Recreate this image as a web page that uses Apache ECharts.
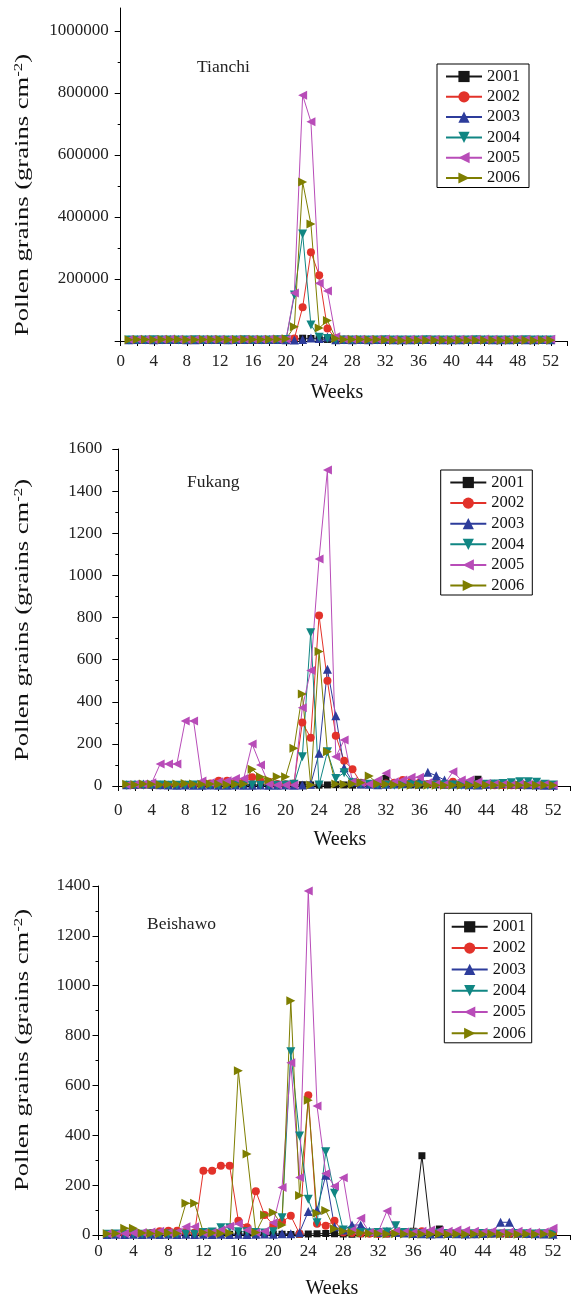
<!DOCTYPE html>
<html>
<head>
<meta charset="utf-8">
<script src="https://cdn.jsdelivr.net/npm/echarts@6/dist/echarts.min.js"></script>
<style>
html, body { margin: 0; padding: 0; background: #fff; }
#main { width: 574px; height: 1301px; }
</style>
</head>
<body>
<div id="main"></div>
<script>
var weeks = [1, 2, 3, 4, 5, 6, 7, 8, 9, 10, 11, 12, 13, 14, 15, 16, 17, 18, 19, 20, 21, 22, 23, 24, 25, 26,
	27, 28, 29, 30, 31, 32, 33, 34, 35, 36, 37, 38, 39, 40, 41, 42, 43, 44, 45, 46, 47, 48, 49, 50, 51, 52];
var years = ['2001', '2002', '2003', '2004', '2005', '2006'];

// Tianchi (grains cm-2)
var tianchi2001 = [2000, 1500, 1800, 2200, 1600, 2500, 1900, 2100, 2400, 1700, 2000, 2300, 1800, 2600, 2200, 1900, 2400, 2800, 3500, 4200, 6000, 9000, 8000, 7000, 5000, 3500,
	3000, 2600, 2200, 2000, 1800, 2100, 1900, 1700, 2000, 2200, 1800, 1600, 1900, 2100, 1800, 1700, 2000, 1900, 1600, 1800, 2100, 1900, 1700, 2000, 1800, 1600];
var tianchi2002 = [3000, 3500, 4000, 3200, 3800, 4200, 3600, 3000, 3400, 4000, 3800, 3500, 3200, 3600, 4000, 3800, 3500, 4200, 4500, 5000, 8000, 109000, 286000, 212000, 40000, 8000,
	4500, 4000, 3600, 3200, 3500, 3800, 3400, 3000, 3200, 3600, 3800, 3500, 3200, 3000, 3400, 3600, 3800, 3500, 3200, 3000, 3400, 3600, 3200, 3000, 3500, 3300];
var tianchi2003 = [4000, 4500, 5000, 4200, 4800, 5200, 4600, 4000, 4400, 5000, 4800, 4500, 4200, 4600, 5000, 4800, 4500, 5200, 4500, 4000, 3000, 5000, 10000, 8000, 13000, 4000,
	4500, 4000, 4600, 4200, 4500, 4800, 4400, 4000, 4200, 4600, 4800, 4500, 4200, 4000, 4400, 4600, 4800, 4500, 4200, 4000, 4400, 4600, 4200, 4000, 4500, 4300];
var tianchi2004 = [3000, 3500, 3200, 3800, 3400, 3000, 3600, 3200, 3800, 3500, 3000, 3400, 3600, 3200, 3800, 3500, 3000, 3600, 4000, 4500, 148000, 345000, 52000, 12000, 8000, 4000,
	3500, 3200, 3600, 3000, 3400, 3800, 3200, 3600, 3000, 3400, 3800, 3500, 3000, 3400, 3600, 3200, 3800, 3500, 3000, 3400, 3600, 3200, 3800, 3500, 3000, 3400];
var tianchi2005 = [5000, 5500, 6000, 5200, 5800, 6200, 5600, 5000, 5400, 6000, 5800, 5500, 5200, 5600, 6000, 5800, 5500, 6200, 5500, 6000, 155000, 793000, 707000, 186000, 161000, 14000,
	6000, 5500, 6000, 5200, 5800, 6200, 5600, 5000, 5400, 6000, 5800, 5500, 5200, 5600, 6000, 5800, 5500, 6200, 5500, 5000, 5400, 6000, 5800, 5500, 5200, 5600];
var tianchi2006 = [4000, 4500, 5000, 4200, 4800, 5200, 4600, 4000, 4400, 5000, 4800, 4500, 4200, 4600, 5000, 4800, 4500, 5200, 6000, 7000, 46000, 513000, 377000, 42000, 66000, 8000,
	5000, 4500, 4800, 4200, 4500, 3000, 2500, 2000, 2200, 2600, 2800, 2500, 2200, 2000, 2400, 2600, 2800, 2500, 2200, 2000, 2400, 2600, 2200, 2000, 2500, 2300];

// Fukang
var fukang2001 = [5, 4, 6, 5, 4, 5, 6, 5, 4, 5, 6, 5, 4, 5, 6, 5, 4, 5, 6, 5, 4, 6, 5, 4, 5, 6,
	5, 4, 6, 8, 10, 36, 8, 6, 5, 4, 6, 5, 4, 6, 8, 10, 32, 10, 6, 5, 4, 6, 5, 4, 6, 5];
var fukang2002 = [3, 4, 5, 4, 3, 5, 4, 6, 5, 8, 12, 25, 25, 15, 20, 41, 22, 20, 10, 8, 12, 301, 229, 809, 500, 239,
	120, 79, 15, 10, 8, 12, 15, 28, 20, 15, 10, 12, 8, 20, 10, 8, 6, 5, 4, 5, 4, 3, 5, 4, 3, 4];
var fukang2003 = [6, 8, 10, 8, 6, 5, 4, 5, 4, 3, 5, 4, 3, 5, 4, 3, 5, 4, 3, 5, 4, 5, 8, 155, 554, 334,
	87, 20, 10, 8, 6, 8, 10, 12, 15, 20, 65, 49, 28, 10, 8, 6, 5, 8, 10, 12, 10, 8, 6, 5, 4, 3];
var fukang2004 = [3, 4, 3, 4, 5, 4, 3, 4, 5, 4, 3, 4, 5, 4, 3, 5, 4, 3, 4, 5, 8, 139, 728, 5, 163, 36,
	63, 15, 10, 8, 6, 5, 4, 5, 6, 5, 4, 5, 6, 5, 4, 5, 6, 8, 10, 12, 15, 20, 20, 18, 8, 5];
var fukang2005 = [5, 8, 10, 15, 104, 104, 104, 309, 309, 24, 15, 20, 25, 36, 36, 199, 100, 10, 5, 5, 5, 372, 548, 1078, 1500, 139,
	218, 20, 15, 10, 28, 60, 20, 28, 41, 41, 15, 10, 8, 68, 28, 28, 20, 12, 10, 8, 6, 10, 8, 6, 8, 5];
var fukang2006 = [8, 6, 10, 8, 6, 8, 10, 12, 10, 8, 10, 8, 6, 8, 10, 79, 44, 28, 44, 44, 179, 437, 5, 639, 163, 10,
	8, 10, 15, 47, 10, 8, 6, 5, 4, 5, 4, 3, 4, 3, 4, 3, 4, 5, 4, 3, 4, 3, 4, 3, 4, 3];

// Beishawo
var beishawo2001 = [3, 2, 3, 4, 3, 2, 3, 4, 3, 2, 3, 4, 3, 2, 3, 4, 3, 2, 3, 4, 3, 2, 3, 4, 5, 6,
	5, 4, 3, 5, 6, 5, 4, 6, 8, 15, 318, 10, 24, 8, 6, 5, 4, 3, 5, 4, 3, 4, 5, 4, 3, 4];
var beishawo2002 = [3, 4, 5, 3, 4, 8, 15, 17, 17, 12, 10, 258, 258, 278, 278, 57, 31, 176, 80, 40, 53, 77, 5, 561, 45, 37,
	57, 10, 8, 6, 5, 4, 6, 8, 10, 12, 15, 10, 8, 6, 5, 4, 3, 4, 5, 6, 5, 4, 3, 4, 5, 4];
var beishawo2003 = [2, 3, 2, 3, 2, 3, 2, 3, 2, 3, 2, 3, 2, 3, 2, 3, 2, 3, 4, 3, 5, 5, 10, 94, 100, 240,
	33, 20, 40, 40, 15, 10, 15, 10, 8, 6, 5, 4, 5, 6, 5, 4, 5, 6, 8, 51, 51, 8, 6, 5, 4, 3];
var beishawo2004 = [3, 4, 3, 4, 3, 4, 3, 4, 3, 4, 3, 10, 12, 29, 29, 13, 13, 10, 8, 13, 69, 735, 397, 143, 49, 334,
	167, 20, 15, 10, 8, 10, 12, 37, 10, 8, 6, 5, 8, 6, 5, 4, 5, 6, 5, 4, 5, 6, 5, 4, 5, 4];
var beishawo2005 = [5, 4, 6, 8, 10, 12, 15, 10, 12, 33, 33, 8, 10, 20, 35, 45, 20, 10, 15, 49, 191, 691, 231, 1380, 517, 247,
	196, 230, 20, 67, 10, 12, 96, 15, 12, 10, 15, 20, 18, 15, 20, 18, 15, 12, 15, 10, 12, 15, 12, 10, 12, 27];
var beishawo2006 = [5, 6, 27, 27, 8, 6, 5, 8, 6, 127, 127, 10, 8, 6, 8, 659, 325, 10, 80, 90, 40, 940, 158, 541, 87, 98,
	25, 15, 10, 8, 6, 5, 4, 5, 4, 3, 4, 3, 4, 3, 4, 3, 4, 3, 4, 3, 4, 3, 4, 3, 4, 3];

// tick labels
var weekLabels = [0, 4, 8, 12, 16, 20, 24, 28, 32, 36, 40, 44, 48, 52];
var tianchiLabels = [200000, 400000, 600000, 800000, 1000000];
var tianchiMajor = [0, 200000, 400000, 600000, 800000, 1000000];
var tianchiMinor = [100000, 300000, 500000, 700000, 900000];
var fukangLabels = [0, 200, 400, 600, 800, 1000, 1200, 1400, 1600];
var fukangMinor = [100, 300, 500, 700, 900, 1100, 1300, 1500];
var beishawoLabels = [0, 200, 400, 600, 800, 1000, 1200, 1400];
var beishawoMinor = [100, 300, 500, 700, 900, 1100, 1300];

var serif = 'Liberation Serif';
var yearColor = ['#161616', '#e2322a', '#2d3c9b', '#108683', '#b84cb8', '#7e7e00'];
var yearSymbol = ['rect', 'circle', 'triangle', 'triangle', 'triangle', 'triangle'];
var yearRotate = [0, 0, 0, 180, 90, -90];
var yearSize = [7, 8, 9, 9, 9, 9];

var panels = [
	{ data: [tianchi2001, tianchi2002, tianchi2003, tianchi2004, tianchi2005, tianchi2006],
		grid: { left: 120.7, top: 8, width: 446.6, height: 333 }, max: 1074000,
		labels: tianchiLabels, major: tianchiMajor, minor: tianchiMinor, yMargin: 12, xMargin: 12 },
	{ data: [fukang2001, fukang2002, fukang2003, fukang2004, fukang2005, fukang2006],
		grid: { left: 118.3, top: 449, width: 451.7, height: 337 }, max: 1600,
		labels: fukangLabels, major: fukangLabels, minor: fukangMinor, yMargin: 16, xMargin: 16 },
	{ data: [beishawo2001, beishawo2002, beishawo2003, beishawo2004, beishawo2005, beishawo2006],
		grid: { left: 98.5, top: 886, width: 472, height: 349 }, max: 1400,
		labels: beishawoLabels, major: beishawoLabels, minor: beishawoMinor, yMargin: 8, xMargin: 8 }
];

function plainNumber(v) {
	return String(v);
}

var grids = [], xAxes = [], yAxes = [], series = [];
for (var p = 0; p < panels.length; p++) {
	var pan = panels[p];
	grids.push({ left: pan.grid.left, top: pan.grid.top, width: pan.grid.width, height: pan.grid.height, outerBoundsMode: 'none' });
	xAxes.push({
		gridIndex: p, type: 'value', min: 0, max: 54, interval: 2,
		axisLine: { show: true, onZero: false, lineStyle: { color: '#000', width: 1 } },
		axisTick: { show: true, length: 5, lineStyle: { color: '#000' } },
		axisLabel: { customValues: weekLabels, margin: pan.xMargin, fontFamily: serif, fontSize: 17, color: '#222', formatter: plainNumber },
		splitLine: { show: false }
	});
	// major ticks + labels
	yAxes.push({
		gridIndex: p, type: 'value', min: 0, max: pan.max, position: 'left',
		axisLine: { show: true, lineStyle: { color: '#000', width: 1 } },
		axisTick: { show: true, length: 6, customValues: pan.major, lineStyle: { color: '#000' } },
		axisLabel: { customValues: pan.labels, margin: pan.yMargin, fontFamily: serif, fontSize: 17, color: '#222', formatter: plainNumber },
		splitLine: { show: false }
	});
	// minor ticks
	yAxes.push({
		gridIndex: p, type: 'value', min: 0, max: pan.max, position: 'left',
		axisLine: { show: false },
		axisTick: { show: true, length: 3, customValues: pan.minor, lineStyle: { color: '#000' } },
		axisLabel: { show: false },
		splitLine: { show: false }
	});
	for (var k = 0; k < years.length; k++) {
		var vals = pan.data[k];
		var pts = [];
		for (var i = 0; i < weeks.length; i++) {
			pts.push([weeks[i], vals[i]]);
		}
		series.push({
			name: years[k], type: 'line', xAxisIndex: p, yAxisIndex: p * 2,
			data: pts,
			symbol: yearSymbol[k], symbolSize: yearSize[k], symbolRotate: yearRotate[k],
			showAllSymbol: true,
			lineStyle: { color: yearColor[k], width: 1 },
			itemStyle: { color: yearColor[k] },
			emphasis: { disabled: true }
		});
	}
}

var legendBase = {
	orient: 'vertical', data: years,
	borderColor: '#000', borderWidth: 1,
	itemWidth: 36, itemHeight: 14,
	textStyle: { fontFamily: serif, fontSize: 16.5, lineHeight: 16, color: '#111' },
	selectedMode: false
};
var legends = [
	Object.assign({}, legendBase, { left: 437, top: 64, padding: [4, 9, 1, 8], itemGap: 3.3 }),
	Object.assign({}, legendBase, { left: 440.7, top: 470, padding: [4, 8, 1, 8.6], itemGap: 3.6 }),
	Object.assign({}, legendBase, { left: 444.3, top: 913.3, padding: [5, 6, 1, 6.4], itemGap: 4.3 })
];

var titleStyle = { fontFamily: serif, fontSize: 17.5, fontWeight: 'normal', color: '#222' };
var titles = [
	{ text: 'Tianchi', left: 197, top: 58, padding: 0, textStyle: titleStyle },
	{ text: 'Fukang', left: 187, top: 473, padding: 0, textStyle: titleStyle },
	{ text: 'Beishawo', left: 147, top: 915, padding: 0, textStyle: titleStyle }
];

function yTitle(x, y) {
	return {
		type: 'text', x: x, y: y, rotation: Math.PI / 2, scaleX: 1.4,
		style: {
			text: '{a|Pollen grains (grains cm}{b|-2}{a|)}',
			rich: {
				a: { fontFamily: serif, fontSize: 19, lineHeight: 20, fill: '#111' },
				b: { fontFamily: serif, fontSize: 12, lineHeight: 20, verticalAlign: 'top', fill: '#111' }
			},
			align: 'center', verticalAlign: 'middle'
		}
	};
}
function xTitle(x, y) {
	return {
		type: 'text', x: x, y: y,
		style: { text: 'Weeks', fontFamily: serif, fontSize: 20, fill: '#111', align: 'center', verticalAlign: 'middle' }
	};
}

var option = {
	animation: false,
	backgroundColor: '#fff',
	title: titles,
	legend: legends,
	grid: grids,
	xAxis: xAxes,
	yAxis: yAxes,
	series: series,
	graphic: [
		yTitle(23, 195), yTitle(23, 620), yTitle(23, 1050),
		xTitle(337, 393), xTitle(340, 840), xTitle(332, 1289)
	]
};

var myChart = echarts.init(document.getElementById('main'));
myChart.setOption(option);
</script>
</body>
</html>
